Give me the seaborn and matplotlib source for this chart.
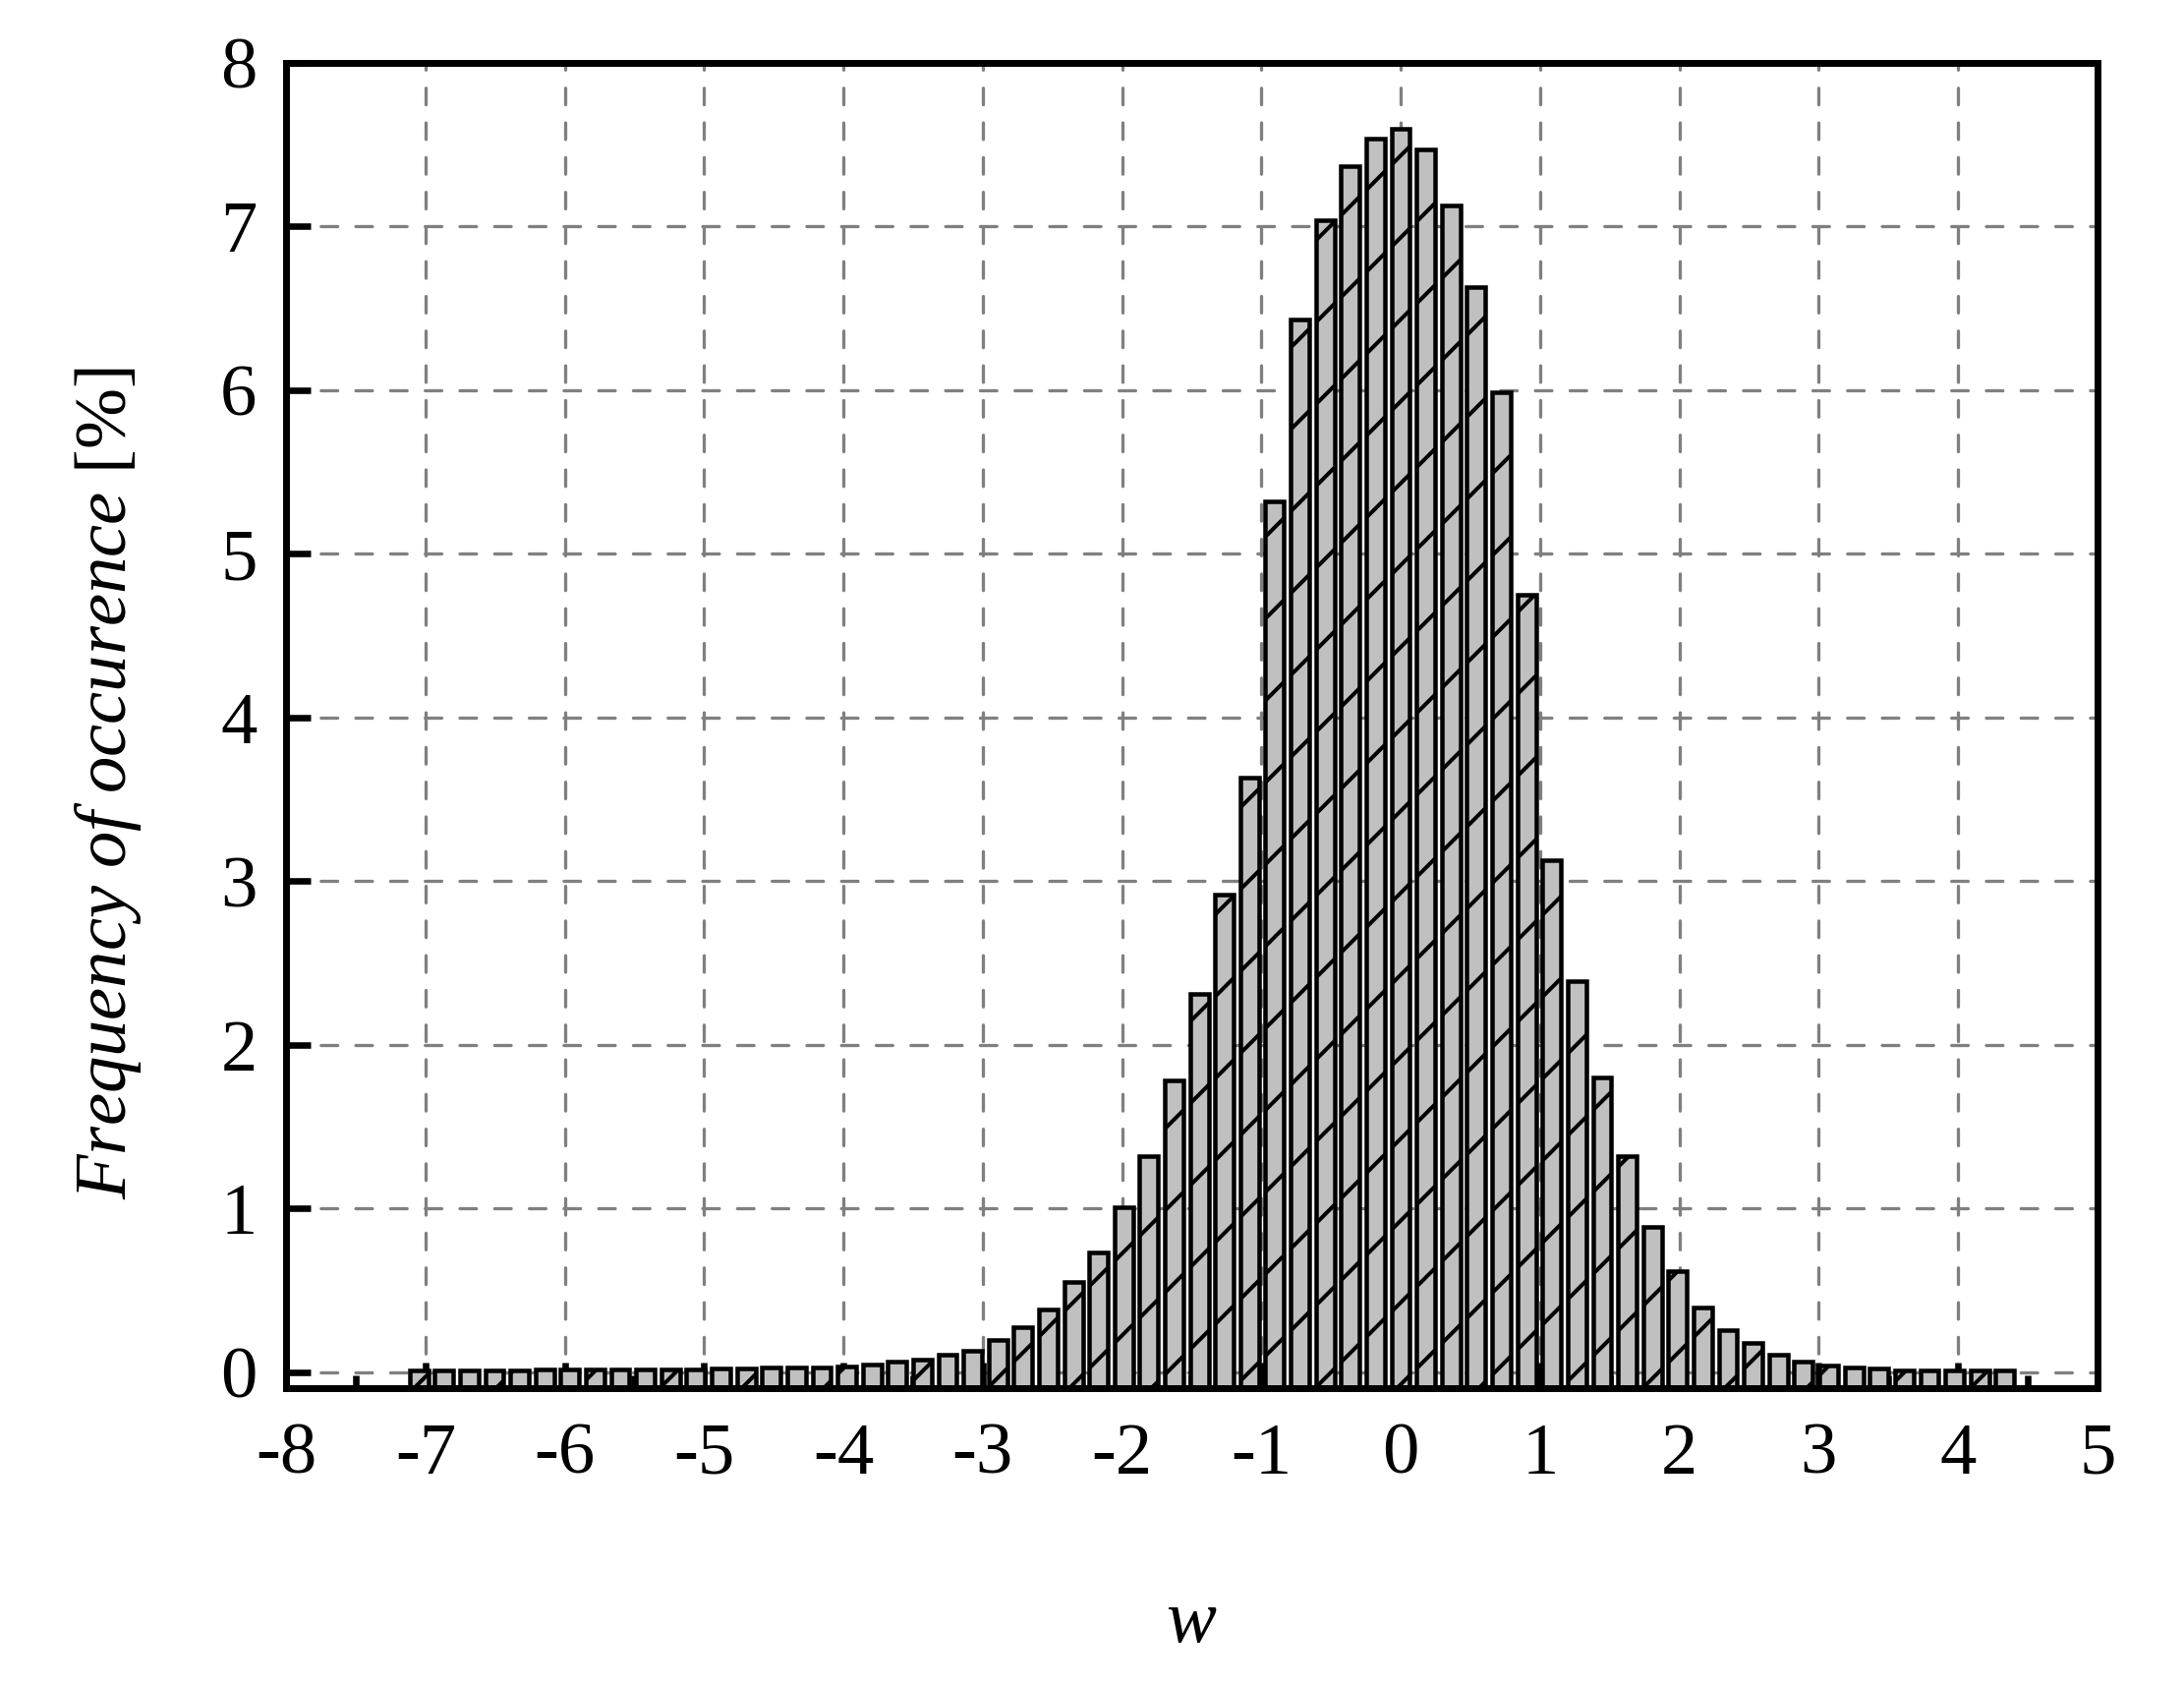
import matplotlib
matplotlib.use("Agg")
import matplotlib.pyplot as plt
import seaborn as sns
import pandas as pd
from matplotlib.ticker import MultipleLocator

# histogram bin centres (w)
w_centres = [-7.047, -6.867, -6.686, -6.505, -6.325, -6.144, -5.963, -5.782,
             -5.602, -5.421, -5.240, -5.060, -4.879, -4.698, -4.518, -4.337,
             -4.156, -3.975, -3.795, -3.614, -3.433, -3.253, -3.072, -2.891,
             -2.711, -2.530, -2.349, -2.168, -1.988, -1.807, -1.626, -1.446,
             -1.265, -1.084, -0.904, -0.723, -0.542, -0.361, -0.181, 0.000,
             0.181, 0.361, 0.542, 0.723, 0.904, 1.084, 1.265, 1.446,
             1.626, 1.807, 1.988, 2.168, 2.349, 2.530, 2.711, 2.891,
             3.072, 3.253, 3.433, 3.614, 3.795, 3.975, 4.156, 4.337]

# frequency of occurence in %
freq_pct = [0.008, 0.008, 0.008, 0.008, 0.010, 0.014, 0.014, 0.014,
            0.014, 0.014, 0.014, 0.014, 0.020, 0.020, 0.026, 0.026,
            0.026, 0.034, 0.050, 0.068, 0.080, 0.105, 0.130, 0.195,
            0.275, 0.385, 0.550, 0.730, 1.010, 1.320, 1.780, 2.310,
            2.920, 3.630, 5.320, 6.435, 7.036, 7.367, 7.535, 7.595,
            7.469, 7.126, 6.633, 5.990, 4.750, 3.130, 2.390, 1.800,
            1.320, 0.890, 0.620, 0.395, 0.260, 0.180, 0.110, 0.065,
            0.042, 0.030, 0.020, 0.013, 0.013, 0.013, 0.013, 0.010]

x_ticks = [-8, -7, -6, -5, -4, -3, -2, -1, 0, 1, 2, 3, 4, 5]
y_ticks = [0, 1, 2, 3, 4, 5, 6, 7, 8]
y_floor = -0.1   # bars start at the bottom of the axis

sns.set_style("white")
plt.rcParams['font.family'] = ['Liberation Serif', 'DejaVu Serif']
plt.rcParams['mathtext.fontset'] = 'custom'
plt.rcParams['mathtext.rm'] = 'Liberation Serif'
plt.rcParams['mathtext.it'] = 'Liberation Serif:italic'
plt.rcParams['axes.unicode_minus'] = False
plt.rcParams['hatch.linewidth'] = 1.15
plt.rcParams['hatch.color'] = 'black'
plt.rcParams['text.color'] = 'black'
plt.rcParams['axes.labelcolor'] = 'black'
plt.rcParams['xtick.color'] = 'black'
plt.rcParams['ytick.color'] = 'black'

df = pd.DataFrame({'w': w_centres, 'freq': freq_pct})
df['height'] = df['freq'] - y_floor

fig = plt.figure(figsize=(2222 / 250, 1715 / 250), dpi=250)
ax = fig.add_axes([0.131, 0.1764, 0.8293, 0.7863])

sns.barplot(data=df, x='w', y='height', native_scale=True, width=0.74,
            color='#c0c0c0', saturation=1, edgecolor='black', linewidth=1.3,
            hatch='/', bottom=y_floor, errorbar=None, ax=ax, zorder=1)

ax.set_xlim(-8, 5)
ax.set_ylim(y_floor, 8)
ax.set_xticks(x_ticks)
ax.set_yticks(y_ticks)
ax.xaxis.set_minor_locator(MultipleLocator(0.5))

# dashed grid behind the bars (ticks stay on top)
grid_kw = dict(color='#808080', lw=0.95, linestyle=(0, (5.1, 5.6)),
               dash_capstyle='round', zorder=0.5)
for xv in ax.get_xticks():
    ax.axvline(xv, **grid_kw)
for yv in ax.get_yticks():
    ax.axhline(yv, **grid_kw)

for s in ax.spines.values():
    s.set_linewidth(2.0)
    s.set_color('black')
    s.set_visible(True)

ax.tick_params(axis='x', which='major', direction='in', length=7.5, width=1.9,
               pad=10, labelsize=21.5, bottom=True, top=False)
ax.tick_params(axis='x', which='minor', direction='in', length=3.75, width=1.9,
               bottom=True, top=False)
ax.tick_params(axis='y', which='major', direction='in', length=7.2, width=1.9,
               pad=8.5, labelsize=21.5, left=True, right=False)

ax.set_xlabel(r'$\mathit{w}$', fontsize=22)
ax.set_ylabel(r'$\mathit{Frequency\ of\ occurence}$ [%]', fontsize=21.5)
ax.xaxis.set_label_coords(0.5, -0.1517)
ax.yaxis.set_label_coords(-0.0787, 0.4564)

fig.savefig('out.png', dpi=250)
